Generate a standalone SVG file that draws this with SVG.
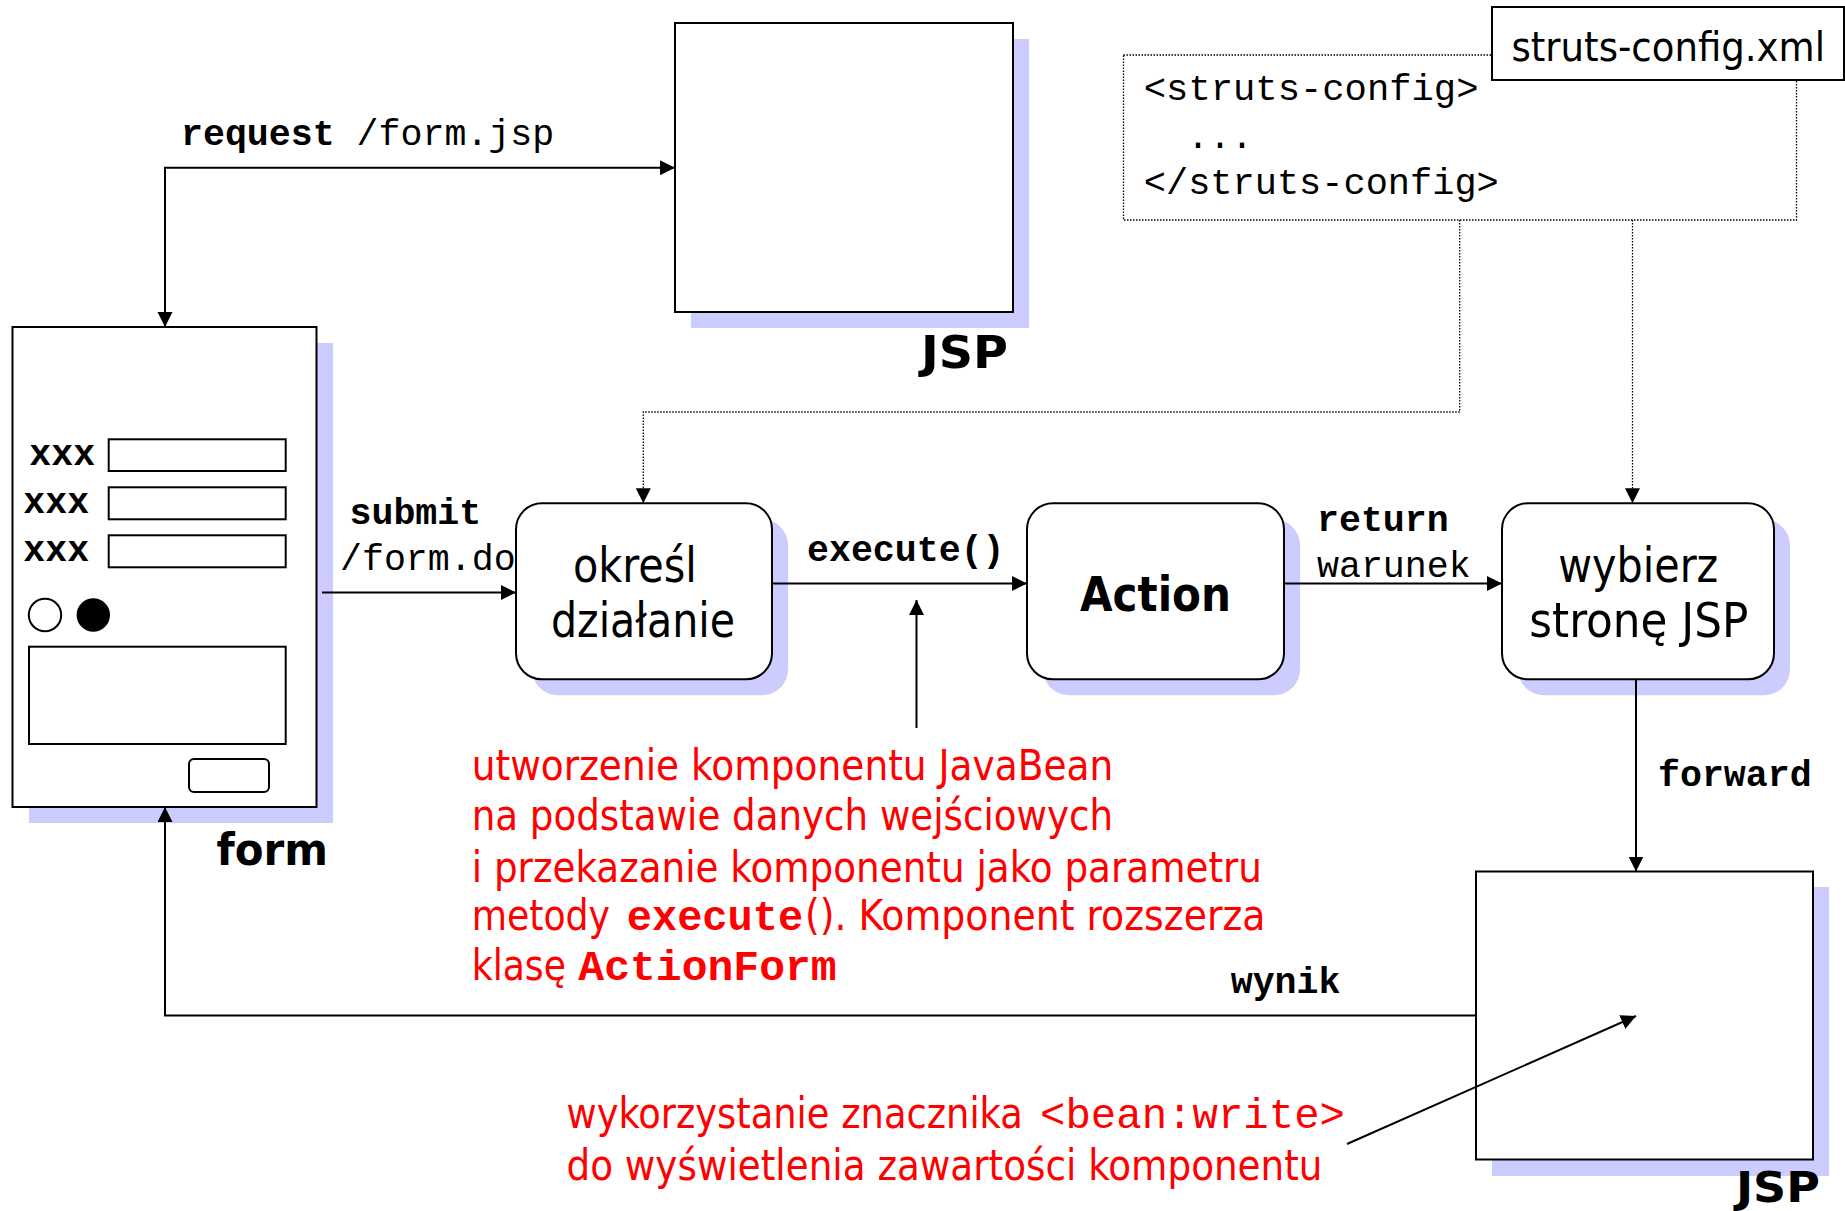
<svg xmlns="http://www.w3.org/2000/svg" width="1845" height="1211" viewBox="0 0 1845 1211">
<defs>
<marker id="arr" markerUnits="userSpaceOnUse" markerWidth="16" markerHeight="16" refX="15" refY="7.5" orient="auto-start-reverse">
<path d="M0,0 L15,7.5 L0,15 Z" fill="#000"/>
</marker>
<style>
.box{fill:#fff;stroke:#000;stroke-width:2}
.shadow{fill:#ccccff;stroke:none}
.conn{fill:none;stroke:#000;stroke-width:2}
.dot{fill:none;stroke:#000;stroke-width:1.3;stroke-dasharray:1.5 1.5}
.mono{font-family:"Liberation Mono","Courier New",monospace;font-size:36.6px;fill:#000}
.monob{font-family:"Liberation Mono","Courier New",monospace;font-size:36.6px;font-weight:bold;fill:#000}
.sans{font-family:"DejaVu Sans Condensed","DejaVu Sans",sans-serif;fill:#000}
.sansb{font-family:"DejaVu Sans Condensed","DejaVu Sans",sans-serif;font-weight:bold;fill:#000}
.red{font-family:"DejaVu Sans Condensed","DejaVu Sans",sans-serif;font-size:42.5px;fill:#ff0000}
.redmb{font-family:"Liberation Mono","Courier New",monospace;font-size:42.5px;font-weight:bold;fill:#ff0000}
.redm{font-family:"Liberation Mono","Courier New",monospace;font-size:42.5px;fill:#ff0000}
</style>
</defs>
<rect width="1845" height="1211" fill="#fff"/>

<g id="jsp-top">
<rect class="shadow" x="691" y="39" width="338" height="289"/>
<rect class="box" x="675" y="23" width="338" height="289"/>
<text class="sansb" x="921" y="368" font-size="45" textLength="87" lengthAdjust="spacingAndGlyphs">JSP</text>
</g>

<g id="form">
<rect class="shadow" x="29" y="343" width="304" height="480"/>
<rect class="box" x="12.5" y="327" width="304" height="480"/>
<text class="monob" x="29.3" y="465.3">xxx</text>
<text class="monob" x="23.3" y="513.3">xxx</text>
<text class="monob" x="23.3" y="561">xxx</text>
<rect class="box" x="108.7" y="439.3" width="177" height="31.7"/>
<rect class="box" x="108.7" y="487.3" width="177" height="32"/>
<rect class="box" x="108.7" y="535.3" width="177" height="32"/>
<circle cx="45" cy="615" r="16.2" fill="#fff" stroke="#000" stroke-width="2"/>
<circle cx="93.3" cy="615" r="16.7" fill="#000"/>
<rect class="box" x="29" y="646.7" width="256.7" height="97.3"/>
<rect class="box" x="189" y="759" width="80" height="33" rx="5"/>
<text class="sansb" x="216.5" y="865" font-size="45" textLength="111.5" lengthAdjust="spacingAndGlyphs">form</text>
</g>

<g id="okresl">
<rect class="shadow" x="532" y="519.3" width="256" height="176" rx="26"/>
<rect class="box" x="516" y="503.3" width="256" height="176" rx="26"/>
<text class="sans" x="573" y="581.7" font-size="48" textLength="123.7" lengthAdjust="spacingAndGlyphs">określ</text>
<text class="sans" x="551" y="636.7" font-size="48" textLength="184" lengthAdjust="spacingAndGlyphs">działanie</text>
</g>

<g id="action">
<rect class="shadow" x="1043" y="519.3" width="257" height="176" rx="26"/>
<rect class="box" x="1027" y="503.3" width="257" height="176" rx="26"/>
<text class="sansb" x="1080" y="610.7" font-size="48" textLength="151" lengthAdjust="spacingAndGlyphs">Action</text>
</g>

<g id="wybierz">
<rect class="shadow" x="1518" y="519.3" width="272" height="176" rx="26"/>
<rect class="box" x="1502" y="503.3" width="272" height="176" rx="26"/>
<text class="sans" x="1558.3" y="581.7" font-size="48" textLength="160" lengthAdjust="spacingAndGlyphs">wybierz</text>
<text class="sans" x="1529.3" y="636.7" font-size="48" textLength="219" lengthAdjust="spacingAndGlyphs">stronę JSP</text>
</g>

<g id="jsp-bottom">
<rect class="shadow" x="1492" y="887" width="337" height="289"/>
<rect class="box" x="1476" y="871.5" width="337" height="288"/>
<text class="sansb" x="1736" y="1202" font-size="43" textLength="84" lengthAdjust="spacingAndGlyphs">JSP</text>
</g>

<g id="struts-config">
<rect class="dot" x="1123.5" y="55" width="673" height="165" fill="#fff"/>
<rect class="box" x="1492" y="7" width="352" height="73"/>
<text class="sans" x="1511.5" y="61" font-size="40" textLength="313.5" lengthAdjust="spacingAndGlyphs">struts-config.xml</text>
<text class="mono" x="1143.8" y="100" font-size="37.2" textLength="334.7" lengthAdjust="spacingAndGlyphs">&lt;struts-config&gt;</text>
<text class="mono" x="1187" y="148.3" font-size="37.2">...</text>
<text class="mono" x="1143.8" y="194.3" font-size="37.2" textLength="355" lengthAdjust="spacingAndGlyphs">&lt;/struts-config&gt;</text>
</g>

<g id="connectors">
<path class="conn" d="M165,327 V167.7 H675" marker-start="url(#arr)" marker-end="url(#arr)"/>
<path class="conn" d="M322,592.5 H516" marker-end="url(#arr)"/>
<path class="conn" d="M772,583.5 H1027" marker-end="url(#arr)"/>
<path class="conn" d="M1284,583.5 H1502" marker-end="url(#arr)"/>
<path class="conn" d="M916.5,728 V600" marker-end="url(#arr)"/>
<path class="conn" d="M1636,679.5 V871.5" marker-end="url(#arr)"/>
<path class="conn" d="M1476,1015.5 H165 V807" marker-end="url(#arr)"/>
<path class="conn" d="M1347,1144 L1636,1016" marker-end="url(#arr)"/>
<path class="dot" d="M1459.7,220 V412 H643.3 V503.3" marker-end="url(#arr)"/>
<path class="dot" d="M1632.5,220 V503.3" marker-end="url(#arr)"/>
</g>

<g id="labels">
<text x="181" y="145" class="mono"><tspan class="monob">request</tspan> /form.jsp</text>
<text class="monob" x="349.5" y="524">submit</text>
<text class="mono" x="340" y="570">/form.do</text>
<text class="monob" x="807" y="561">execute()</text>
<text class="monob" x="1317" y="531">return</text>
<text class="mono" x="1317" y="576.7">warunek</text>
<text class="monob" x="1658" y="785.7">forward</text>
<text class="monob" x="1230.7" y="993">wynik</text>
</g>

<g id="note-javabean">
<text class="red" x="471.7" y="780" textLength="641.6" lengthAdjust="spacingAndGlyphs">utworzenie komponentu JavaBean</text>
<text class="red" x="471.7" y="830" textLength="641.3" lengthAdjust="spacingAndGlyphs">na podstawie danych wejściowych</text>
<text class="red" x="471.7" y="881.7" textLength="790.3" lengthAdjust="spacingAndGlyphs">i przekazanie komponentu jako parametru</text>
<text class="red" x="471.7" y="930" textLength="138.3" lengthAdjust="spacingAndGlyphs">metody</text>
<text class="redmb" x="626.7" y="930" textLength="176.6" lengthAdjust="spacingAndGlyphs">execute</text>
<text class="red" x="805" y="930" textLength="460.5" lengthAdjust="spacingAndGlyphs">(). Komponent rozszerza</text>
<text class="red" x="471.7" y="980" textLength="94.3" lengthAdjust="spacingAndGlyphs">klasę</text>
<text class="redmb" x="578.3" y="980" textLength="258.4" lengthAdjust="spacingAndGlyphs">ActionForm</text>
</g>

<g id="note-beanwrite">
<text class="red" x="566.5" y="1128" textLength="456.3" lengthAdjust="spacingAndGlyphs">wykorzystanie znacznika</text>
<text class="redm" x="1040" y="1128" textLength="305" lengthAdjust="spacingAndGlyphs">&lt;bean:write&gt;</text>
<text class="red" x="566.5" y="1180" textLength="756" lengthAdjust="spacingAndGlyphs">do wyświetlenia zawartości komponentu</text>
</g>
</svg>
